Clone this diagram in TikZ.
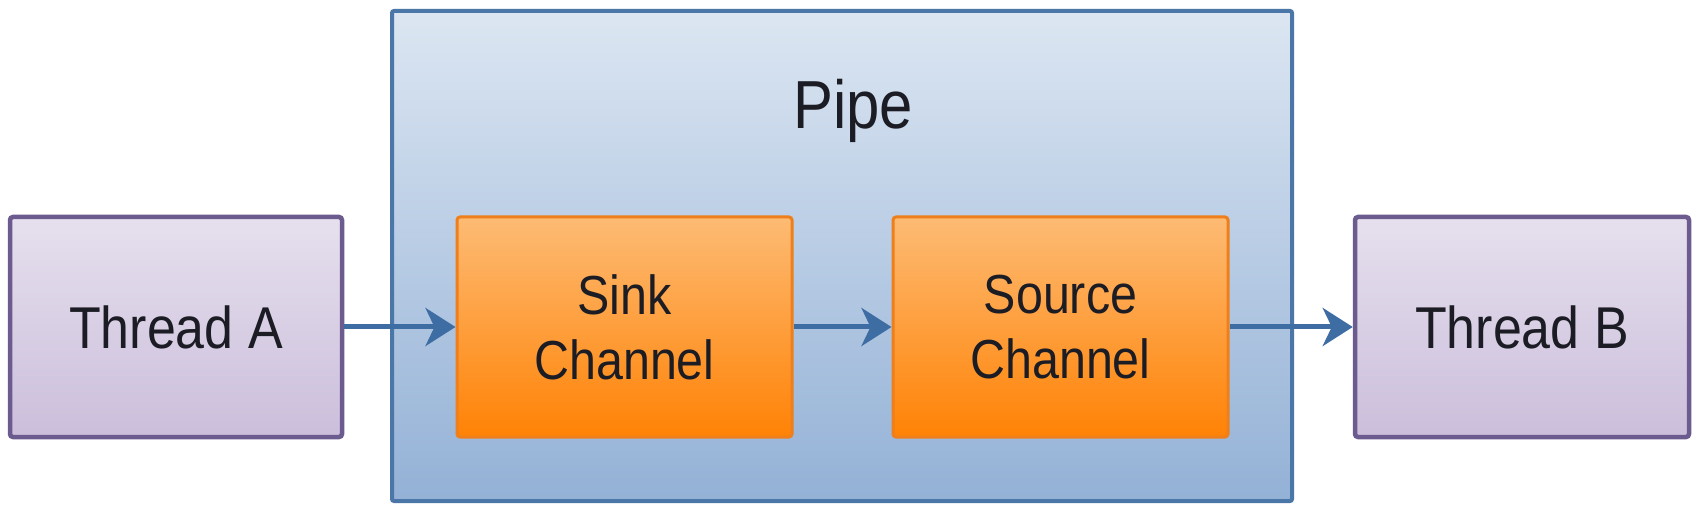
\documentclass[tikz,border=0pt]{standalone}
\usepackage{fontspec}
\setmainfont{Liberation Sans}[FakeStretch=0.88]
\usetikzlibrary{arrows.meta}
\definecolor{pipetop}{HTML}{DCE6F2}
\definecolor{pipebot}{HTML}{93B1D6}
\definecolor{pipeline}{HTML}{4A76A8}
\definecolor{thrtop}{HTML}{E6E0EE}
\definecolor{thrbot}{HTML}{CBBEDB}
\definecolor{thrline}{HTML}{6B5B8E}
\definecolor{orgtop}{HTML}{FDBB74}
\definecolor{orgbot}{HTML}{FF8205}
\definecolor{orgline}{HTML}{EE7F1A}
\definecolor{arrcol}{HTML}{3E6DA3}
\definecolor{txt}{HTML}{1C1C24}
\tikzset{
  threadbox/.style={draw=thrline, line width=4.5pt, rounded corners=3pt,
    top color=thrtop, bottom color=thrbot, minimum width=332pt, minimum height=220pt,
    text=txt, font=\fontsize{59}{70}\selectfont, inner sep=0pt},
  chanbox/.style={draw=orgline, line width=3pt, rounded corners=3pt,
    top color=orgtop, bottom color=orgbot, minimum width=335pt, minimum height=220pt,
    text=txt, font=\fontsize{55}{65}\selectfont, align=center, inner sep=0pt},
  pipebox/.style={draw=pipeline, line width=4pt, rounded corners=2pt,
    top color=pipetop, bottom color=pipebot, minimum width=900pt, minimum height=490pt, inner sep=0pt},
  pipetext/.style={text=txt, font=\fontsize{68}{80}\selectfont, inner sep=0pt},
  arr/.style={draw=arrcol, line width=5pt,
    -{Stealth[length=30pt,width=38pt,inset=9pt]}}
}
\begin{document}
\begin{tikzpicture}[x=1pt,y=-1pt]
  \useasboundingbox (0,0) rectangle (1700,510);
  \fill[white] (0,0) rectangle (1700,510);
  \node[pipebox] (pipe) at (842,256) {};
  \node[pipetext] (pipelabel) at (853,111) {Pipe};
  \node[threadbox] (ta) at (176,327) {Thread A};
  \node[chanbox] (sink) at (624.5,327) {Sink\\Channel};
  \node[chanbox] (source) at (1060.5,327) {Source\\Channel};
  \node[threadbox, minimum width=334pt] (tb) at (1522,327) {Thread B};
  \draw[arr] (ta.east) -- (sink.west);
  \draw[arr] (sink.east) -- (source.west);
  \draw[arr] (source.east) -- (tb.west);
\end{tikzpicture}
\end{document}
